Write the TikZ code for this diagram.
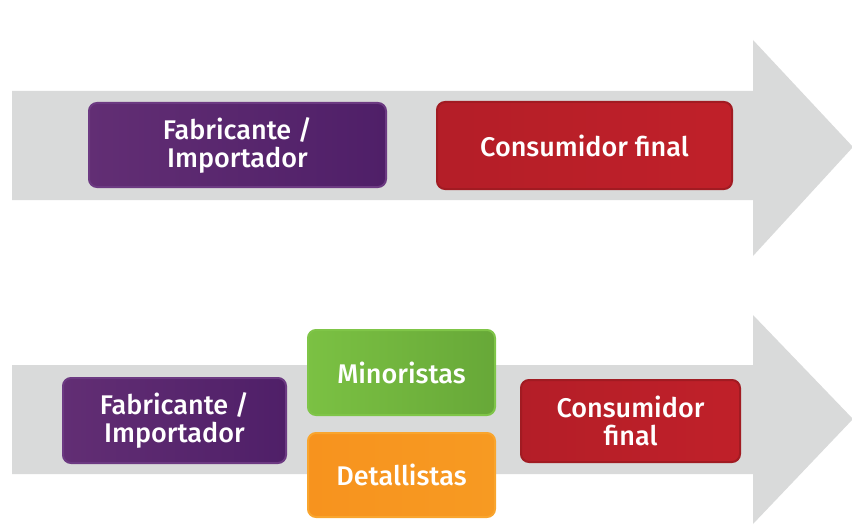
\documentclass[tikz,border=0pt]{standalone}
\usepackage{fontspec}
\setmainfont{Fira Sans Medium}
\usepackage{xcolor}
\usepackage{tikz}
\usetikzlibrary{positioning}

\definecolor{flecha}{HTML}{D9DADA}
\definecolor{moradoA}{HTML}{622E74}
\definecolor{moradoB}{HTML}{4F1F68}
\definecolor{moradoL}{HTML}{6C3A82}
\definecolor{rojoA}{HTML}{B41E28}
\definecolor{rojoB}{HTML}{C02029}
\definecolor{rojoL}{HTML}{A11B22}
\definecolor{verdeA}{HTML}{7BC143}
\definecolor{verdeB}{HTML}{67A838}
\definecolor{verdeL}{HTML}{7FC548}
\definecolor{naranjaA}{HTML}{F7931E}
\definecolor{naranjaB}{HTML}{F79A22}
\definecolor{naranjaL}{HTML}{F9A52E}

\begin{document}
\begin{tikzpicture}[x=1pt, y=-1pt, font=\fontsize{27}{28}\selectfont,
  box/.style={rounded corners=8pt, align=center, text=white, line width=2pt, inner sep=0pt, shading angle=90},
  fab/.style={box, left color=moradoA, right color=moradoB, draw=moradoL},
  cons/.style={box, left color=rojoA, right color=rojoB, draw=rojoL},
  mino/.style={box, left color=verdeA, right color=verdeB, draw=verdeL},
  deta/.style={box, left color=naranjaA, right color=naranjaB, draw=naranjaL}]
\useasboundingbox (0,0) rectangle (852,527);
\clip (0,0) rectangle (852,527);
% flechas de fondo
\fill[flecha] (12,91) -- (753,91) -- (753,40) -- (853,147) -- (753,256) -- (753,200) -- (12,200) -- cycle;
\fill[flecha] (12,365) -- (753,365) -- (753,315) -- (853,419) -- (753,524) -- (753,474) -- (12,474) -- cycle;
% cadena corta
\node[fab, minimum width=297pt, minimum height=84pt] (fab1) at (237.5,145) {Fabricante /\\Importador};
\node[cons, minimum width=295pt, minimum height=87pt] (cons1) at (584.5,145.5) {Consumidor final};
% cadena larga
\node[fab, minimum width=223pt, minimum height=85pt] (fab2) at (174.5,420.5) {Fabricante /\\Importador};
\node[mino, minimum width=187pt, minimum height=85pt] (mino) at (401.5,372.5) {Minoristas};
\node[deta, minimum width=187pt, minimum height=84pt] (deta) at (401.5,475) {Detallistas};
\node[cons, minimum width=219pt, minimum height=82pt] (cons2) at (630.5,421) {Consumidor\\final};
\end{tikzpicture}
\end{document}
